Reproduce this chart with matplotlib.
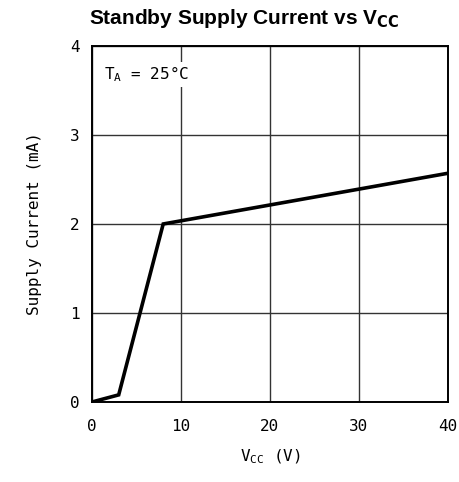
import numpy as np
import matplotlib.pyplot as plt

# supply current vs supply voltage
vcc = [0, 3, 8, 40]
current = [0, 0.08, 2.0, 2.57]

xticks = [0, 10, 20, 30, 40]
yticks = [0, 1, 2, 3, 4]

mono = "DejaVu Sans Mono"
fs = 11.5

fig = plt.figure(figsize=(4.6, 4.82), dpi=100)
ax = fig.add_axes([0.2, 0.166, 0.7739, 0.7386])

ax.plot(vcc, current, color="black", linewidth=2.6, solid_joinstyle="miter")

ax.set_xlim(0, 40)
ax.set_ylim(0, 4)
ax.set_xticks(xticks)
ax.set_yticks(yticks)
ax.tick_params(length=0, labelsize=fs, pad=12)
ax.tick_params(axis="y", pad=9)
for lab in ax.get_xticklabels() + ax.get_yticklabels():
    lab.set_family(mono)
ax.grid(True, color="#333333", linewidth=1.0)
for s in ax.spines.values():
    s.set_linewidth(1.4)

ax.set_xlabel("V$_{\\mathregular{CC}}$ (V)", fontsize=fs, labelpad=10, family=mono)
ax.set_ylabel("Supply Current (mA)", fontsize=fs, labelpad=20, family=mono)

ax.text(1.4, 3.68, "T$_{\\mathregular{A}}$ = 25°C", fontsize=fs, va="center", ha="left",
        family=mono, bbox=dict(facecolor="white", edgecolor="none", pad=2))

fig.text(0.53, 0.962, "Standby Supply Current vs V$_{\\mathbf{CC}}$", ha="center", va="center",
         fontsize=15, fontweight="bold", family="Liberation Sans")

fig.savefig("out.png", dpi=100)
